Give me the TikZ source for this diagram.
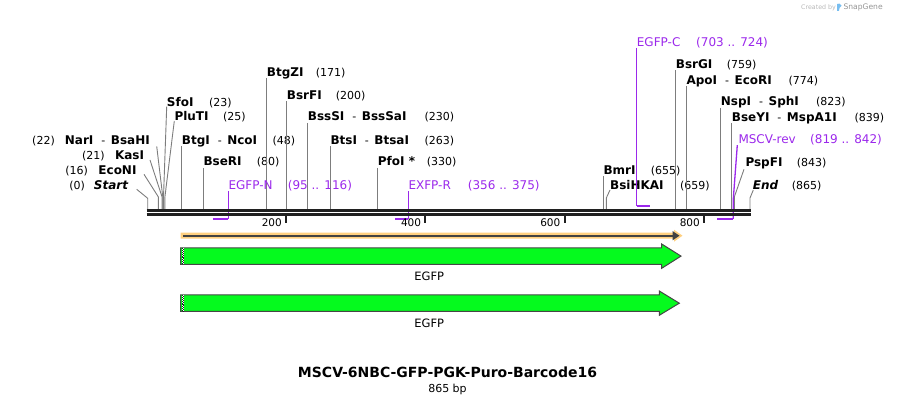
\documentclass[tikz,border=0pt]{standalone}
\usepackage{fontspec}
\setmainfont{DejaVu Sans}
\definecolor{prim}{RGB}{155,40,235}
\definecolor{cutg}{RGB}{125,125,125}
\definecolor{bb}{RGB}{32,32,32}
\definecolor{orf}{RGB}{255,208,128}
\definecolor{gfp}{RGB}{5,250,30}
\definecolor{edge}{RGB}{70,70,70}
\definecolor{logo}{RGB}{120,190,240}
\newcommand\enzsep{\hspace{8pt}{\mdseries\fontsize{11}{13}\selectfont-}\hspace{5.5pt}}
\begin{document}
\begin{tikzpicture}[x=1pt,y=-1pt,
  en/.style={font=\fontsize{12}{14}\selectfont\bfseries, anchor=base west, inner sep=0pt},
  enl/.style={en, anchor=base east},
  num/.style={font=\fontsize{11}{13}\selectfont, anchor=base west, inner sep=0pt},
  numl/.style={num, anchor=base east},
  pr/.style={font=\fontsize{12}{14}\selectfont, text=prim, anchor=base west, inner sep=0pt},
  cut/.style={draw=cutg, line width=0.9pt},
  prl/.style={draw=prim, line width=1.3pt},
  prbar/.style={draw=prim, line width=2.2pt},
  tickm/.style={draw=bb, line width=2pt},
  ticklab/.style={font=\fontsize{10.5}{12}\selectfont, anchor=base east, inner sep=0pt},
  feat/.style={draw=edge, fill=gfp, line width=1pt, line join=miter},
]
\useasboundingbox (0,0) rectangle (898,406);

% ---------- enzyme labels (right side) ----------
\node[en] (sfoi) at (166.7,106.6) {SfoI};
\node[num] (sfoin) at (209,106.6) {(23)};
\node[en] (pluti) at (174.3,121) {PluTI};
\node[num] (plutin) at (223,121) {(25)};
\node[en] (btgi) at (181.7,144.3) {BtgI\enzsep NcoI};
\node[num] (btgin) at (272.3,144.3) {(48)};
\node[en] (bseri) at (203.3,166) {BseRI};
\node[num] (serin) at (256.7,166) {(80)};
\node[en] (btgzi) at (266.7,76.6) {BtgZI};
\node[num] (btgzin) at (315.7,76.6) {(171)};
\node[en] (bsrfi) at (286.7,99.3) {BsrFI};
\node[num] (bsrfin) at (335.7,99.3) {(200)};
\node[en] (bsssi) at (307.7,121) {BssSI\enzsep BssSaI};
\node[num] (bsssin) at (424.3,121) {(230)};
\node[en] (btsi) at (330.3,144.3) {BtsI\enzsep BtsaI};
\node[num] (btsin) at (424.3,144.3) {(263)};
\node[en] (pfoi) at (377.7,166) {PfoI *};
\node[num] (pfoin) at (426.7,166) {(330)};
\node[en] (bmri) at (603.3,174.3) {BmrI};
\node[num] (bmrin) at (650.7,174.3) {(655)};
\node[en] (bsihkai) at (610,189.3) {BsiHKAI};
\node[num] (bsihkain) at (680,189.3) {(659)};
\node[en] (bsrgi) at (675.7,68.6) {BsrGI};
\node[num] (bsrgin) at (726.7,68.6) {(759)};
\node[en] (apoi) at (686.3,84.3) {ApoI\enzsep EcoRI};
\node[num] (apoin) at (788.3,84.3) {(774)};
\node[en] (nspi) at (720.7,106) {NspI\enzsep SphI};
\node[num] (nspin) at (816,106) {(823)};
\node[en] (bseyi) at (731.7,121.6) {BseYI\enzsep MspA1I};
\node[num] (bseyin) at (854.3,121.6) {(839)};
\node[en] (pspfi) at (745.3,166.6) {PspFI};
\node[num] (pspfin) at (796.7,166.6) {(843)};
\node[en] (endl) at (752.7,189.3) {\itshape End};
\node[num] (endn) at (791.7,189.3) {(865)};

% ---------- enzyme labels (left side) ----------
\node[enl] (nari) at (150,144.3) {NarI\enzsep BsaHI};
\node[numl] (narin) at ([xshift=-9.7pt]nari.base west) {(22)};
\node[enl] (kasi) at (144.3,159.3) {KasI};
\node[numl] (kasin) at ([xshift=-10pt]kasi.base west) {(21)};
\node[enl] (econi) at (136.7,174.3) {EcoNI};
\node[numl] (econin) at ([xshift=-10pt]econi.base west) {(16)};
\node[enl] (start) at (128.3,189.3) {\itshape Start};
\node[numl] (startn) at ([xshift=-8.7pt]start.base west) {(0)};

% ---------- cut-site coordinates ----------
\coordinate (kStart) at (147.7,198.3); \coordinate (sStart) at (147.7,209);
\coordinate (kEco) at (158.4,197);    \coordinate (sEco) at (158.4,209);
\coordinate (kKas) at (162.1,197);    \coordinate (sKas) at (162.1,209);
\coordinate (kNar) at (162.8,197);    \coordinate (sNar) at (162.8,209);
\coordinate (kSfo) at (163.5,197);    \coordinate (sSfo) at (163.5,209);
\coordinate (kPlu) at (164.9,197);    \coordinate (sPlu) at (164.9,209);
\coordinate (kHK) at (606.3,198);     \coordinate (sHK) at (606.3,209);
\coordinate (kPsp) at (734.3,197);    \coordinate (sPsp) at (734.3,209);
\coordinate (kEnd) at (750,198);      \coordinate (sEnd) at (750,209);
\coordinate (bbtop) at (0,209);

% ---------- cut lines ----------
\draw[cut] ([xshift=8.4pt]start.base east) -- (kStart) -- (sStart);
\draw[cut] ([xshift=7.3pt]econi.base east) -- (kEco) -- (sEco);
\draw[cut] ([xshift=5.7pt,yshift=-0.7pt]kasi.base east) -- (kKas) -- (sKas);
\draw[cut] ([xshift=6.7pt,yshift=-2pt]nari.base east) -- (kNar) -- (sNar);
\draw[cut] (sfoi.base west) -- (kSfo) -- (sSfo);
\draw[cut] (pluti.base west) -- (kPlu) -- (sPlu);
\draw[cut] ([yshift=-0.7pt]bsihkai.base west) -- (kHK) -- (sHK);
\draw[cut] ([xshift=-1.3pt,yshift=-2.7pt]pspfi.base west) -- (kPsp) -- (sPsp);
\draw[cut] ([xshift=0.6pt,yshift=-0.7pt]endl.base west) -- (kEnd) -- (sEnd);
\foreach \n in {btgi,bseri,btgzi,bsrfi,bsssi,btsi,pfoi,bmri,bsrgi,apoi,nspi,bseyi}
  \draw[cut] ([yshift=-1.8pt]\n.base west) -- (\n.base west |- bbtop);

% ---------- primers ----------
\node[pr] (egfpn) at (228.3,189.3) {EGFP-N};
\node[pr] (egfpnn) at (287.7,189.3) {(95 .. 116)};
\node[pr] (exfpr) at (408.3,190) {EXFP-R};
\node[pr] (exfprn) at (467.7,190) {(356 .. 375)};
\node[pr] (egfpc) at (636.7,46.6) {EGFP-C};
\node[pr] (egfpcn) at (696,46.6) {(703 .. 724)};
\node[pr] (mscv) at (738.3,143.6) {MSCV-rev};
\node[pr] (mscvn) at (810,143.6) {(819 .. 842)};

\coordinate (pN1) at (213.3,218.8); \coordinate (pN2) at (228.3,218.8);
\coordinate (pR1) at (395.2,218.8); \coordinate (pR2) at (408.3,218.8);
\coordinate (pC1) at (636.7,205.7); \coordinate (pC2) at (650,205.7);
\coordinate (pM1) at (717.3,218.8); \coordinate (pM2) at (733.3,218.8);
\coordinate (pMk) at (733.3,199);

\draw[prl] ([yshift=-1.5pt]egfpn.base west) -- (pN2);
\draw[prbar] (pN1) -- (pN2);
\draw[prl] ([yshift=-1.5pt]exfpr.base west) -- (pR2);
\draw[prbar] (pR1) -- (pR2);
\draw[prl] ([yshift=-1.5pt]egfpc.base west) -- (pC1);
\draw[prbar] (pC1) -- (pC2);
\draw[prl] ([xshift=-1pt,yshift=-1.5pt]mscv.base west) -- (pMk) -- (pM2);
\draw[prbar] (pM1) -- (pM2);

% ---------- backbone ----------
\draw[bb, line width=2.7pt] (146.7,210.3) -- (750.7,210.3);
\draw[bb, line width=2.7pt] (146.7,214.6) -- (750.7,214.6);

% ---------- ticks ----------
\foreach \x/\t in {286/200,425.3/400,564.5/600,704/800}{
  \draw[tickm] (\x,215.5) -- (\x,223);
  \node[ticklab] at (\x-4,226.1) {\t};
}

% ---------- ORF ----------
\fill[orf] (180.7,232.7) -- (674,232.7) -- (674,229.7) -- (682.5,235.7) -- (674,241.7) -- (674,238.7) -- (180.7,238.7) -- cycle;
\draw[bb!85, line width=2pt] (183.3,235.7) -- (673.5,235.7);
\fill[bb!85] (672.5,231) -- (679.5,235.7) -- (672.5,240.4) -- cycle;

% ---------- features ----------
\draw[feat] (180.7,248) -- (661.7,248) -- (661.7,244) -- (681,256.1) -- (661.7,268.3) -- (661.7,264.3) -- (180.7,264.3) -- cycle;
\draw[feat] (180.7,295) -- (659.3,295) -- (659.3,291) -- (679.3,303.2) -- (659.3,315.3) -- (659.3,311.4) -- (180.7,311.4) -- cycle;
\foreach \ya/\yb in {248.5/263.8,295.5/310.9}{
  \fill[white] (181.6,\ya) rectangle (184.4,\yb);
  \draw[bb, line width=0.9pt, dash pattern=on 0.9pt off 0.9pt] (182.3,\ya) -- (182.3,\yb);
  \draw[bb, line width=0.9pt, dash pattern=on 0.9pt off 0.9pt, dash phase=0.9pt] (183.7,\ya) -- (183.7,\yb);
}
\node[font=\fontsize{11.5}{13}\selectfont, anchor=base, inner sep=0pt] (egfp1) at (429.3,280.9) {EGFP};
\node[font=\fontsize{11.5}{13}\selectfont, anchor=base, inner sep=0pt] (egfp2) at (429.3,327.5) {EGFP};

% ---------- title ----------
\node[font=\fontsize{14}{16}\selectfont\bfseries, anchor=base, inner sep=0pt] (title) at (447.5,377.1) {MSCV-6NBC-GFP-PGK-Puro-Barcode16};
\node[font=\fontsize{11}{13}\selectfont, anchor=base, inner sep=0pt] (bp) at (447.5,392) {865 bp};

% ---------- watermark ----------
\node[font=\fontsize{6.3}{7}\selectfont, text=black!28, anchor=base west, inner sep=0pt] (cby) at (801,9.4) {Created by};
\fill[logo] (837,11) -- (837,4) -- (839.6,3.6) .. controls (842.2,4) and (842.2,7.6) .. (839.6,7.8) -- (838.9,11) -- cycle;
\node[font=\fontsize{7.6}{8}\selectfont, text=black!42, anchor=base west, inner sep=0pt] (sg) at (843.3,9.8) {SnapGene};
\end{tikzpicture}
\end{document}
